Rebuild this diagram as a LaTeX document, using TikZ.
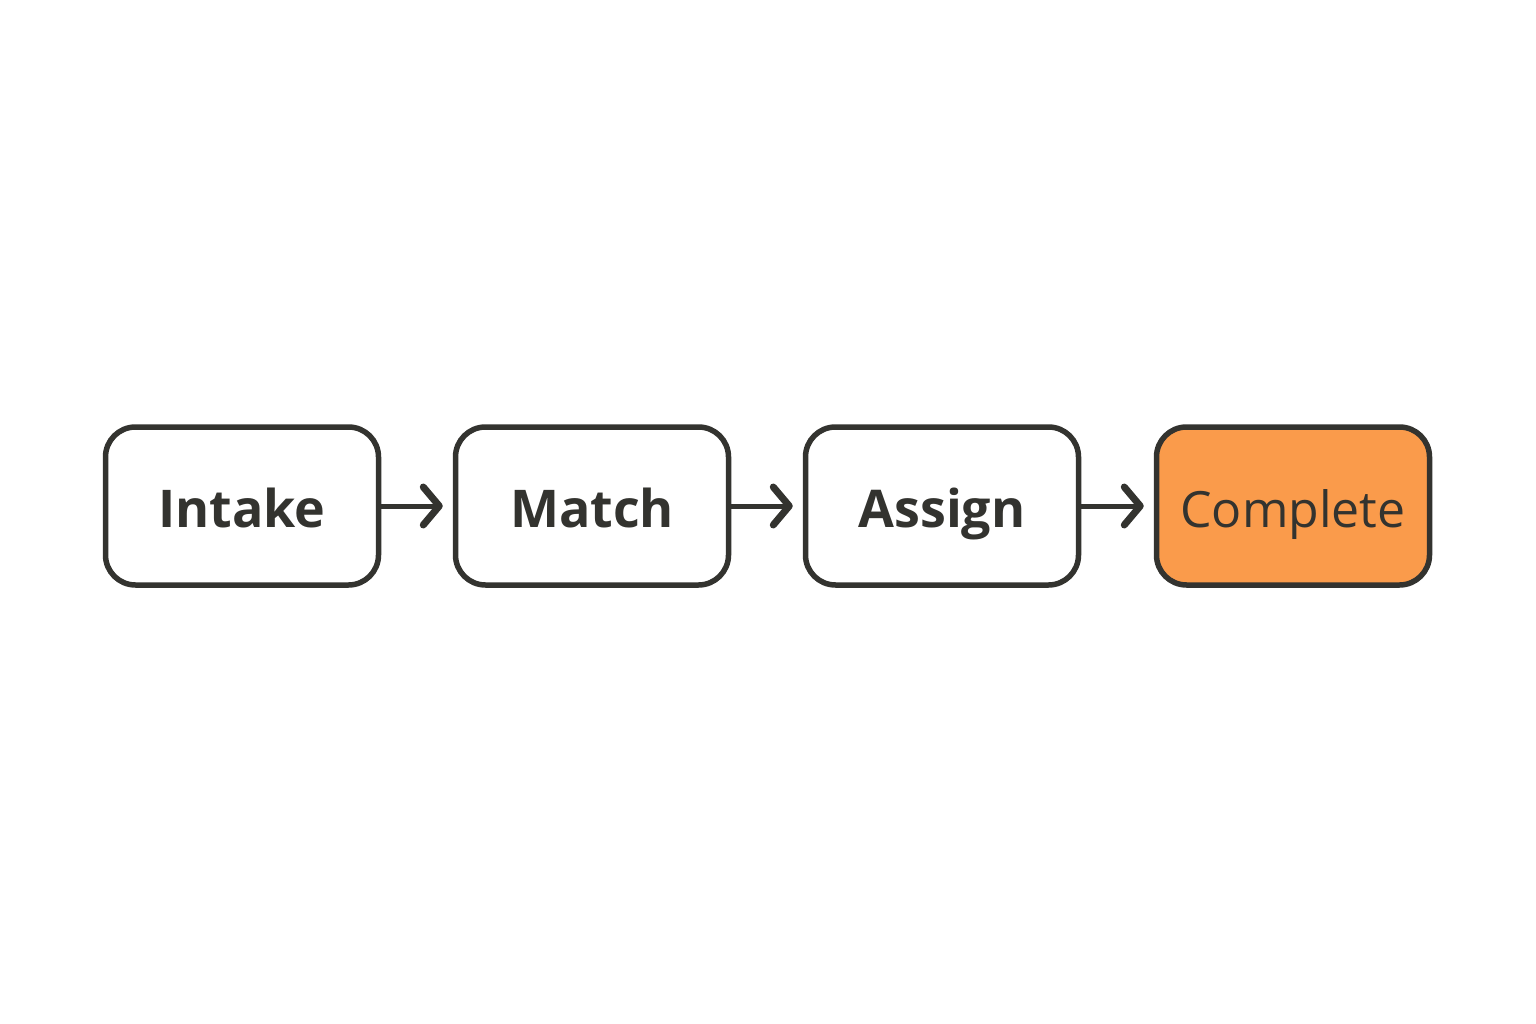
\documentclass[tikz,border=0pt]{standalone}
\usepackage{fontspec}
\setmainfont{Open Sans}
\usetikzlibrary{arrows.meta}
\definecolor{ink}{HTML}{33332F}
\definecolor{orng}{HTML}{FA9B4B}
\begin{document}
\begin{tikzpicture}[x=1pt,y=-1pt,
  stage/.style={draw=ink, line width=5.5pt, rounded corners=30pt, minimum width=273pt, minimum height=158pt, inner sep=0pt, text height=42pt, text depth=0pt, text=ink},
  lbl/.style={font=\fontsize{52}{60}\selectfont\bfseries},
  lblreg/.style={font=\fontsize{50}{60}\selectfont},
  flow/.style={draw=ink, line width=5pt, line cap=round, -{Straight Barb[length=16pt,width=38pt, round, line width=+0pt 1.4]}, shorten >=10pt}]
\useasboundingbox (0,0) rectangle (1536,1024);
\node[stage, lbl] (a) at (242,506) {Intake};
\node[stage, lbl] (b) at (592,506) {Match};
\node[stage, lbl] (c) at (942,506) {Assign};
\node[stage, lblreg, fill=orng] (d) at (1293,506) {Complete};
\draw[flow] (a.east) -- (b.west);
\draw[flow] (b.east) -- (c.west);
\draw[flow] (c.east) -- (d.west);
\end{tikzpicture}
\end{document}
